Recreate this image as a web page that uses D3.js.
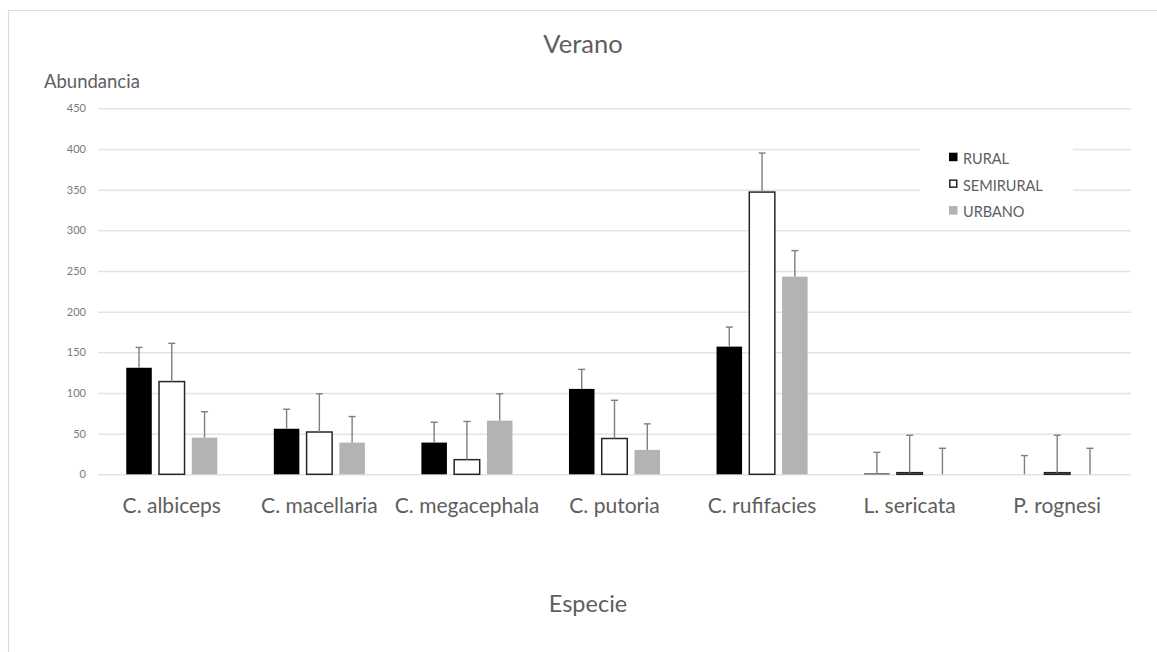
<!DOCTYPE html>
<html lang="es">
<head>
  <meta charset="UTF-8">
  <title>Verano</title>
  <style>
    body { margin: 0; background: #fff; }
    text { font-family: Lato, "Open Sans", sans-serif; fill: #5e5e5e; }
  </style>
</head>
<body>
<div id="chart"></div>

<script src="https://cdnjs.cloudflare.com/ajax/libs/d3/7.8.5/d3.min.js"></script>
<script>
  // values
  const categories = ["C. albiceps", "C. macellaria", "C. megacephala", "C. putoria", "C. rufifacies", "L. sericata", "P. rognesi"];
  const seriesNames = ["RURAL", "SEMIRURAL", "URBANO"];
  const rural = [131, 56, 39, 105, 157, 1, 0];
  const semirural = [114, 52, 18, 44, 347, 2, 2];
  const urbano = [45, 39, 66, 30, 243, 0, 0];
  const ruralErr = [25, 24, 25, 24, 24, 26, 23];
  const semiruralErr = [47, 47, 47, 47, 48, 46, 46];
  const urbanoErr = [32, 32, 33, 32, 32, 32, 32];
  const yTicks = [0, 50, 100, 150, 200, 250, 300, 350, 400, 450];

  const W = 1157, H = 652;
  const margin = {top: 108.3, right: 26, bottom: 177.7, left: 98};
  const width = W - margin.left - margin.right,
    height = H - margin.top - margin.bottom;

  const series = [
    {name: "RURAL", values: rural, err: ruralErr, fill: "#000000", stroke: "none"},
    {name: "SEMIRURAL", values: semirural, err: semiruralErr, fill: "#ffffff", stroke: "#262626"},
    {name: "URBANO", values: urbano, err: urbanoErr, fill: "#b3b3b3", stroke: "none"}
  ];

  const svg = d3.select("#chart").append("svg")
    .attr("width", W)
    .attr("height", H);

  // chart area border (top and left edges visible)
  svg.append("path")
    .attr("d", "M8.5," + H + "V10.5H" + W)
    .attr("fill", "none")
    .attr("stroke", "#dcdcdc")
    .attr("stroke-width", 1.2);

  const g = svg.append("g")
    .attr("transform", "translate(" + margin.left + "," + margin.top + ")");

  const x0 = d3.scaleBand()
    .domain(categories)
    .range([0, width])
    .paddingInner(0.334)
    .paddingOuter(0.167);

  const x1 = d3.scaleBand()
    .domain(seriesNames)
    .range([0, x0.bandwidth()])
    .paddingInner(0.221)
    .paddingOuter(0.11);

  const y = d3.scaleLinear()
    .domain([0, 450])
    .range([height, 0]);

  // gridlines + y tick labels
  const yAxis = g.append("g")
    .call(d3.axisLeft(y).tickValues(yTicks).tickSizeInner(-width).tickSizeOuter(0).tickPadding(12));
  yAxis.select(".domain").remove();
  yAxis.selectAll(".tick line").attr("stroke", "#e3e3e3").attr("stroke-width", 1.5);
  yAxis.selectAll(".tick text")
    .attr("font-size", 11)
    .style("fill", "#7a7a7a");

  // x labels
  const xAxis = g.append("g")
    .attr("transform", "translate(0," + height + ")")
    .call(d3.axisBottom(x0).tickSize(0).tickPadding(24));
  xAxis.select(".domain").remove();
  xAxis.selectAll(".tick text").attr("font-size", 21);

  // bars
  const groups = g.selectAll(".grp")
    .data(categories)
    .join("g")
    .attr("class", "grp")
    .attr("transform", d => "translate(" + x0(d) + ",0)");

  groups.selectAll("rect")
    .data((d, i) => series.map(s => ({s: s, v: s.values[i], e: s.err[i]})))
    .join("rect")
    .attr("x", d => x1(d.s.name))
    .attr("y", d => y(d.v))
    .attr("width", x1.bandwidth())
    .attr("height", d => y(0) - y(d.v))
    .attr("fill", d => d.s.fill)
    .attr("stroke", d => d.s.stroke)
    .attr("stroke-width", 1.5);

  // error bars (plus direction only)
  const errs = groups.selectAll(".err")
    .data((d, i) => series.map(s => ({s: s, v: s.values[i], e: s.err[i]})))
    .join("g")
    .attr("class", "err")
    .attr("stroke", "#7f7f7f")
    .attr("stroke-width", 1.4);

  errs.append("line")
    .attr("x1", d => x1(d.s.name) + x1.bandwidth() / 2)
    .attr("x2", d => x1(d.s.name) + x1.bandwidth() / 2)
    .attr("y1", d => y(d.v))
    .attr("y2", d => y(d.v + d.e));

  errs.append("line")
    .attr("x1", d => x1(d.s.name) + x1.bandwidth() / 2 - 3.5)
    .attr("x2", d => x1(d.s.name) + x1.bandwidth() / 2 + 3.5)
    .attr("y1", d => y(d.v + d.e))
    .attr("y2", d => y(d.v + d.e));

  // legend
  const legend = svg.append("g");
  legend.append("rect")
    .attr("x", 920).attr("y", 140)
    .attr("width", 153).attr("height", 84)
    .attr("fill", "#fff");

  const item = legend.selectAll(".item")
    .data(series)
    .join("g")
    .attr("class", "item")
    .attr("transform", (d, i) => "translate(949," + (152.7 + i * 26.7) + ")");

  item.append("rect")
    .attr("x", d => d.stroke === "none" ? 0 : 0.75)
    .attr("y", d => d.stroke === "none" ? 0 : 0.75)
    .attr("width", d => d.stroke === "none" ? 8.5 : 7)
    .attr("height", d => d.stroke === "none" ? 8.5 : 7)
    .attr("fill", d => d.fill)
    .attr("stroke", d => d.stroke)
    .attr("stroke-width", 1.5);

  item.append("text")
    .attr("x", 14)
    .attr("y", 11.3)
    .attr("font-size", 14.5)
    .text(d => d.name);

  // titles
  svg.append("text")
    .attr("x", 583)
    .attr("y", 53)
    .attr("text-anchor", "middle")
    .attr("font-size", 25.5)
    .text("Verano");

  svg.append("text")
    .attr("x", 44)
    .attr("y", 88)
    .attr("font-size", 18.5)
    .text("Abundancia");

  svg.append("text")
    .attr("x", 588)
    .attr("y", 612)
    .attr("text-anchor", "middle")
    .attr("font-size", 23.5)
    .text("Especie");
</script>
</body>
</html>
